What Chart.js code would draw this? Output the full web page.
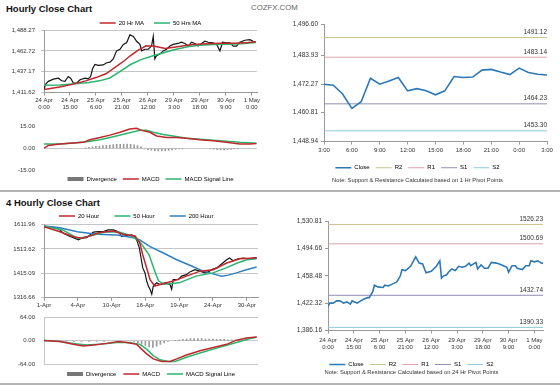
<!DOCTYPE html>
<html>
<head>
<meta charset="utf-8">
<title>Hourly Close Chart</title>
<script src="https://cdn.jsdelivr.net/npm/chart.js@4.4.1/dist/chart.umd.min.js"></script>
<style>
  html, body { margin: 0; padding: 0; background: #fff; }
  body { position: relative; width: 560px; height: 386px; overflow: hidden; font-family: "Liberation Sans", Arial, sans-serif; }
  canvas { position: absolute; }
  .heading { position: absolute; left: 6px; font-weight: bold; font-size: 9.5px; color: #111; line-height: 12px; white-space: nowrap; }
  .brand { position: absolute; left: 251px; top: 3px; font-size: 7.8px; color: #666; line-height: 10px; }
  .rule { position: absolute; left: 0; width: 560px; height: 2px; background: #b4b4b4; }
</style>
</head>
<body>
<div class="heading" style="top:3px">Hourly Close Chart</div>
<div class="brand">COZFX.COM</div>
<div class="rule" style="top:190px"></div>
<div class="heading" style="top:197px">4 Hourly Close Chart</div>
<div class="rule" style="top:383px"></div>

<canvas id="hourlyPrice" width="262" height="112" style="left:0;top:0"></canvas>
<canvas id="hourlyMacd" width="262" height="78" style="left:0;top:114px"></canvas>
<canvas id="hourlyPivot" width="272" height="170" style="left:288px;top:14px"></canvas>
<canvas id="fourHourPrice" width="262" height="112" style="left:0;top:198px"></canvas>
<canvas id="fourHourMacd" width="262" height="82" style="left:0;top:305px"></canvas>
<canvas id="dailyPivot" width="280" height="165" style="left:280px;top:211px"></canvas>

<script>
// ---- hourly close chart (top left) ----
const hourlyTickHours = [0, 15, 30, 45, 60, 75, 90, 105, 120];
const hourlyTickLabels = [['24 Apr', '0:00'], ['24 Apr', '15:00'], ['25 Apr', '6:00'], ['25 Apr', '21:00'],
  ['26 Apr', '12:00'], ['29 Apr', '3:00'], ['29 Apr', '18:00'], ['30 Apr', '9:00'], ['1 May', '0:00']];
const hourlyPriceTicks = [1411.62, 1437.17, 1462.72, 1488.27];

const hourlyHours = [0, 1, 2.5, 5.4, 8.3, 10.2, 12.1, 14, 15.4, 16.9, 18.9, 20.8, 23.7, 25.6, 26.9, 28.1, 29.4, 31.4,
  34.2, 36.2, 38.1, 40, 41.9, 43.9, 45.8, 47.7, 49.6, 51.6, 53.5, 55.4, 56.4, 58.3, 60.2, 62.1, 63.1, 64, 65, 66.9,
  68.8, 70.8, 72.7, 74.6, 77.5, 79.4, 81.4, 83.3, 85.2, 87.1, 89.1, 91, 92.9, 94.9, 97.7, 99.7, 101.6, 103.1, 105.4,
  107.4, 109.3, 111.2, 113.1, 116, 118.9, 120.8, 122.3];
const hourlyClose = [1415.5, 1422.2, 1425.4, 1428.1, 1429.3, 1426.1, 1425.4, 1431.3, 1429.3, 1423.4, 1423.4, 1427.3,
  1429.3, 1428.5, 1431.3, 1441.1, 1446.2, 1445, 1445.5, 1448.2, 1449, 1452.9, 1462.7, 1464.7, 1470.6, 1472.6, 1482.4,
  1480.4, 1474.5, 1470.6, 1462.7, 1464.7, 1464.7, 1468.6, 1480.4, 1452.9, 1456.8, 1458.8, 1462.7, 1464.7, 1468.6,
  1470.6, 1471.8, 1473.3, 1471.8, 1468.6, 1473.3, 1471.8, 1468.6, 1471.8, 1474.5, 1473.3, 1472.6, 1470.6, 1462.7,
  1473.3, 1472.6, 1472.6, 1468.6, 1468.6, 1473.3, 1475.7, 1476.5, 1474.5, 1473.3];

const hourlyMa20Hours = [0, 9, 17, 24, 30, 36, 42, 46, 50, 54, 59, 64, 70, 78, 86, 94, 102, 110, 118, 122.3];
const hourlyMa20 = [1415.5, 1418.5, 1422, 1426, 1430, 1435, 1444, 1450, 1457, 1463, 1469, 1468.5, 1465.5, 1468,
  1470.5, 1471.5, 1472, 1472, 1473, 1474];
const hourlyMa50Hours = [0, 9, 18, 26, 32, 38, 44, 50, 56, 63, 69, 75, 83, 90, 98, 106, 114, 122.3];
const hourlyMa50 = [1420.5, 1421, 1422.5, 1424, 1426, 1429.5, 1437.5, 1446, 1452, 1456.8, 1460.5, 1464, 1467.8,
  1469.5, 1470.5, 1470.8, 1471.5, 1473];

const hourlyMacdTicks = [-15, 0, 15];
const hourlyMacdHours = [0, 2.5, 9.2, 16.9, 22.7, 26.5, 32.3, 38.1, 43.9, 49.6, 53.5, 56.4, 61.2, 65, 70.8, 76.6,
  82.3, 90, 97.7, 105.4, 113.1, 118.9, 122.7];
const hourlyMacd = [0.2, 2, 3, 3.7, 4.1, 5.9, 7.4, 9.1, 11.1, 13.3, 13.9, 12.4, 11.1, 8.5, 7.4, 7.4, 6.9, 5.9, 5.2,
  4.1, 3, 3, 3.3];
const hourlySignalHours = [0, 9.2, 16.9, 24.6, 32.3, 40, 47.7, 55.4, 59.2, 63.1, 68.8, 74.6, 82.3, 90, 97.7, 105.4,
  113.1, 122.7];
const hourlySignal = [3, 3, 3.7, 4.6, 5.9, 8, 10.2, 12.4, 12.4, 11.1, 9.5, 8.5, 6.9, 6.3, 5.6, 4.8, 4.1, 3.5];
const hourlyDivHours = [24, 26, 28, 30, 32, 34, 36, 38, 40, 42, 44, 46, 48, 50, 52, 54, 56, 58, 60, 62, 64, 66, 68,
  70, 72, 74, 76, 78, 80, 96, 98, 100, 102, 104, 106, 108, 110, 112];
const hourlyDivergence = [0.4, 0.7, 1, 1.3, 1.5, 1.8, 2, 2.2, 2.5, 2.7, 2.8, 3, 3, 2.8, 2.4, 1.8, 1, -0.4, -0.9, -1.3,
  -1.6, -1.8, -1.8, -1.6, -1.4, -1.1, -0.8, -0.5, -0.3, -0.3, -0.6, -0.9, -1.1, -1.1, -0.9, -0.7, -0.5, -0.3];

// ---- 1 hr pivot chart (top right) ----
const pivot1hTicks = [1448.94, 1460.81, 1472.27, 1483.93, 1496.60];
const pivot1hHourLabels = ['3:00', '6:00', '9:00', '12:00', '15:00', '18:00', '21:00', '0:00', '3:00'];
const pivot1hClose = [1472.2, 1471.8, 1468.2, 1462.4, 1465.1, 1474.6, 1472.2, 1473.5, 1474.9, 1469.5, 1470.4,
  1469.5, 1467.9, 1469.5, 1475.3, 1474.9, 1475.1, 1477.9, 1478.2, 1477.1, 1476.1, 1478.7, 1476.9, 1476.2, 1475.9];
const pivotNames = ['R2', 'R1', 'S1', 'S2'];
const pivot1hLevels = [1491.12, 1483.14, 1464.23, 1453.30];

// ---- 4 hourly close chart (bottom left) ----
const fourHourTickPos = [0, 18, 36, 54, 72, 90, 108];
const fourHourTickLabels = ['1-Apr', '4-Apr', '10-Apr', '16-Apr', '19-Apr', '24-Apr', '30-Apr'];
const fourHourPriceTicks = [1316.66, 1415.09, 1513.62, 1611.96];

const fourHourX = [0, 3, 6.7, 8.5, 10.3, 13, 15.6, 18.3, 20, 22.7, 24.5, 26.3, 28.9, 31.6, 34.2, 36.9, 39.6, 41.4,
  44, 46.7, 48.5, 49.7, 50.8, 51.7, 52.6, 53.8, 54.7, 55.6, 56.5, 57.4, 58.2, 60, 61.8, 64.4, 67.1, 68, 68.8, 71.5,
  73.3, 75.9, 77.7, 80.4, 83.1, 85.7, 87.5, 89.3, 92, 94.6, 97.3, 98.8, 100.8, 103.4, 106.1, 108.8, 111.5, 113.3];
const fourHourClose = [1603, 1603, 1599, 1590, 1577, 1567, 1559, 1550, 1557, 1559, 1570, 1581, 1583, 1583, 1590,
  1590, 1583, 1563, 1567, 1570, 1563, 1543, 1517, 1477, 1437, 1417, 1384, 1364, 1351, 1331, 1364, 1377, 1370, 1377,
  1371, 1351, 1390, 1390, 1404, 1410, 1421, 1430, 1424, 1417, 1421, 1430, 1437, 1453, 1470, 1477, 1466, 1474, 1477,
  1474, 1477, 1479];
const ma20X = [0, 8.5, 15.6, 20, 25, 29.5, 37, 42, 48.5, 51, 52.6, 54.7, 56.5, 59, 61.8, 68.8, 75.9, 83.1, 90.2,
  97.3, 104.4, 113.3];
const ma20 = [1603, 1583, 1563, 1557, 1567, 1580, 1586, 1573, 1566, 1538, 1490, 1437, 1390, 1364, 1370, 1384, 1404,
  1424, 1430, 1457, 1474, 1477];
const ma50X = [0, 10, 18, 24, 33, 40, 46, 51, 56, 59, 61, 64, 72, 81, 90, 97, 103, 108, 113.3];
const ma50 = [1605, 1590, 1556, 1565, 1583, 1582, 1568, 1543, 1490, 1424, 1385, 1371, 1377, 1404, 1417, 1437, 1457,
  1470, 1474];
const ma200X = [0, 8.5, 17.7, 28, 38.8, 47.7, 51, 56.5, 63.6, 70.7, 77.7, 84.8, 90, 94.6, 98.1, 102.5, 107.8, 113.3];
const ma200 = [1606, 1599, 1583, 1573, 1570, 1559, 1550, 1523, 1497, 1470, 1448, 1424, 1413, 1404, 1408, 1417,
  1430, 1441];

const fourHourMacdTicks = [-64, 0, 64];
const fourMacdX = [0, 8.5, 15.6, 20.9, 26.3, 33.4, 39.6, 44, 49.4, 52, 54.7, 58.2, 62.7, 67.1, 70.7, 75.9, 83.1,
  90.2, 97.3, 102.6, 107.9, 113.3];
const fourMacd = [0.9, -1.8, -9.8, -14.2, -11.6, -7.1, -1.8, -4.4, -9.8, -23, -36, -49.8, -56.9, -56.9, -49.8, -39,
  -27.6, -18.7, -9.8, 1.8, 8, 10.7];
const fourSignalX = [0, 8.5, 15.6, 22.7, 29.8, 38.7, 45.8, 51.1, 54.7, 58.2, 61.8, 66.2, 69.8, 75.9, 83.1, 90.2,
  97.3, 104.4, 109.7, 113.3];
const fourSignal = [0.9, -1.8, -7.1, -11.6, -9.8, -4.4, -4.4, -9.8, -23, -40.9, -52.4, -56.9, -56.9, -45.3, -33.8,
  -23, -12.4, -1.8, 6.2, 9.8];
const fourDivX = [12, 16, 20, 24, 28, 32, 48, 50, 52, 54, 56, 58, 60, 62, 64, 66, 70, 72, 74, 76, 78, 80, 82, 84,
  86, 88, 90, 92, 94, 96, 98, 100, 102, 104, 106, 108];
const fourDivergence = [-1, -2, -2, -1, -1, -1, -2, -5, -9, -13, -17, -18, -15, -10, -6, -2, 1, 3, 4, 5, 6, 6, 6, 6,
  5, 5, 5, 4, 4, 4, 3, 3, 3, 2, 2, 1];

// ---- 24 hr pivot chart (bottom right) ----
const pivot24hTicks = [1386.16, 1422.32, 1458.48, 1494.66, 1530.81];
const pivot24hHours = [0, 1, 3, 5, 7, 9, 11, 13, 14, 17, 19, 21, 23, 24, 26, 27, 29, 32, 33, 35, 38, 40, 42, 43, 45,
  47, 48, 49, 51, 53, 55, 57, 60, 63, 65, 66, 67, 69, 70, 72, 74, 76, 78, 80, 82, 83, 86, 87, 89, 91, 93, 95, 98,
  101, 104, 105, 107, 109, 110, 113, 115, 117, 118, 120, 122, 124, 125];
const pivot24hClose = [1418, 1422.3, 1422.3, 1425.3, 1425.3, 1422.3, 1424, 1421, 1425.3, 1422.3, 1425.3, 1427.8,
  1429.6, 1429.6, 1437.4, 1446, 1443.8, 1443, 1446, 1445, 1448.1, 1450.3, 1458.1, 1466.6, 1465.3, 1468.8, 1471,
  1475.2, 1483.4, 1475.2, 1474, 1462.3, 1464.5, 1471, 1478.2, 1455.5, 1458.1, 1459.8, 1463.2, 1467.5, 1465.3, 1471,
  1469.7, 1471, 1475.2, 1471.8, 1476.1, 1467.5, 1472.7, 1468.4, 1468.4, 1476.1, 1475.2, 1472.7, 1469.7, 1463.2,
  1471.8, 1471.8, 1468.4, 1466.6, 1471.8, 1471.8, 1478.2, 1476.9, 1478.2, 1475.2, 1474.8];
const pivot24hLevels = [1526.23, 1500.69, 1432.74, 1390.33];

// ---- colours ----
const RED = '#c1272d';
const GREEN = '#2cb56e';
const BLUE = '#2e80c0';
const CLOSE_BLUE = '#2b78b6';
const PIVOT_COLORS = ['#c9c48f', '#dca4ab', '#958bb2', '#8ecadb'];
const AXIS = '#999';

Chart.defaults.font.family = '"Liberation Sans", Arial, sans-serif';
Chart.defaults.font.size = 6;
Chart.defaults.color = '#333';
Chart.defaults.animation = false;
Chart.defaults.responsive = false;
Chart.defaults.devicePixelRatio = 1;
Chart.defaults.elements.point.radius = 0;
Chart.defaults.elements.line.tension = 0;
Chart.defaults.plugins.tooltip.enabled = false;

function toPoints(xs, ys) {
  return xs.map((x, i) => ({ x, y: ys[i] }));
}

function fixedTicks(values) {
  return scale => { scale.ticks = values.map(v => ({ value: v })); };
}

const comma = v => v.toLocaleString('en-US', { minimumFractionDigits: 2, maximumFractionDigits: 2 });

// legend with short line swatches, entries without a label are left out
function legend(position, padding, maxHeight, extra) {
  return Object.assign({
    position,
    maxHeight,
    labels: {
      padding,
      usePointStyle: true,
      pointStyleWidth: 16,
      boxHeight: 6,
      color: '#333',
      generateLabels(chart) {
        return chart.data.datasets.map((ds, i) => ({
          text: ds.label,
          strokeStyle: ds.legendColor || ds.borderColor,
          fillStyle: ds.legendColor || ds.borderColor,
          lineWidth: ds.legendWidth || ds.borderWidth,
          pointStyle: 'line',
          hidden: false,
          datasetIndex: i
        })).filter(item => item.text);
      }
    }
  }, extra);
}

function pivotDatasets(levels, xMax) {
  return levels.map((level, i) => ({
    label: pivotNames[i],
    data: [{ x: 0, y: level }, { x: xMax, y: level }],
    borderColor: PIVOT_COLORS[i],
    borderWidth: 1,
    pivot: level
  }));
}

// writes the level value above each support / resistance line
const pivotLabels = {
  id: 'pivotLabels',
  afterDatasetsDraw(chart) {
    const { ctx, chartArea, scales } = chart;
    ctx.save();
    ctx.font = '6.5px "Liberation Sans", Arial, sans-serif';
    ctx.fillStyle = '#333';
    ctx.textAlign = 'right';
    ctx.textBaseline = 'bottom';
    chart.data.datasets.forEach(ds => {
      if (ds.pivot === undefined) return;
      ctx.fillText(ds.pivot.toFixed(2), chartArea.right, scales.y.getPixelForValue(ds.pivot) - 2);
    });
    ctx.restore();
  }
};

// price chart: close line underneath, moving averages on top
function priceChart(id, opts) {
  return new Chart(document.getElementById(id), {
    type: 'line',
    data: { datasets: opts.datasets },
    options: {
      layout: { padding: opts.padding },
      plugins: { legend: legend('top', opts.legendPadding, opts.legendHeight, opts.legendExtra) },
      scales: {
        x: {
          type: 'linear',
          min: 0,
          max: opts.xMax,
          offset: false,
          afterBuildTicks: fixedTicks(opts.xTicks),
          ticks: { callback: (v, i) => opts.xLabels[i], padding: 1, maxRotation: 0, autoSkip: false },
          grid: { drawOnChartArea: false, tickLength: 3, color: AXIS },
          border: { color: AXIS }
        },
        y: {
          min: opts.yTicks[0],
          max: opts.yTicks[opts.yTicks.length - 1],
          afterBuildTicks: fixedTicks(opts.yTicks),
          afterFit: s => { s.width = 44; },
          ticks: { callback: opts.yFormat, padding: 6 },
          grid: { color: '#c6c6c6', tickLength: 3 },
          border: { color: AXIS }
        }
      }
    }
  });
}

function macdChart(id, opts) {
  return new Chart(document.getElementById(id), {
    type: 'line',
    data: {
      datasets: [
        { type: 'bar', label: 'Divergence', data: opts.divergence, backgroundColor: '#9a9a9a', barThickness: 1,
          legendColor: '#777', legendWidth: 4, order: 2 },
        { label: 'MACD', data: opts.macd, borderColor: RED, borderWidth: 1.5, order: 0 },
        { label: 'MACD Signal Line', data: opts.signal, borderColor: GREEN, borderWidth: 1.5, order: 1 }
      ]
    },
    options: {
      layout: { padding: opts.padding },
      plugins: { legend: legend('bottom', opts.legendPadding, undefined, { fullSize: false }) },
      scales: {
        x: { type: 'linear', min: 0, max: opts.xMax, offset: false, display: false },
        y: {
          min: opts.yTicks[0],
          max: opts.yTicks[opts.yTicks.length - 1],
          afterBuildTicks: fixedTicks(opts.yTicks),
          afterFit: s => { s.width = 44; },
          ticks: { callback: v => v.toFixed(2), padding: 9 },
          grid: { drawTicks: false, color: opts.gridColor },
          border: { display: opts.frame, color: '#c6c6c6' }
        }
      }
    }
  });
}

function pivotChart(id, opts) {
  return new Chart(document.getElementById(id), {
    type: 'line',
    data: {
      datasets: [
        { label: 'Close', data: opts.close, borderColor: CLOSE_BLUE, borderWidth: 1.6 },
        ...pivotDatasets(opts.levels, opts.xMax)
      ]
    },
    options: {
      layout: { padding: opts.padding },
      plugins: {
        legend: legend('bottom', 6, opts.legendHeight),
        subtitle: { display: true, position: 'bottom', text: opts.note, font: { size: 5.8 }, color: '#333', padding: 0 }
      },
      scales: {
        x: {
          type: 'linear',
          min: 0,
          max: opts.xMax,
          afterBuildTicks: fixedTicks(opts.xTicks),
          afterFit: s => { s.height += opts.xExtra; },
          ticks: { callback: (v, i) => opts.xLabels[i], padding: opts.xPadding, maxRotation: 0, autoSkip: false },
          grid: { drawOnChartArea: false, tickLength: 3, color: AXIS },
          border: { color: AXIS }
        },
        y: {
          min: opts.yTicks[0],
          max: opts.yTicks[opts.yTicks.length - 1],
          afterBuildTicks: fixedTicks(opts.yTicks),
          afterFit: s => { s.width = opts.yWidth; },
          ticks: { callback: comma, padding: 3, font: { size: 6.5 } },
          grid: { drawOnChartArea: false, tickLength: 3, color: AXIS },
          border: { color: AXIS }
        }
      }
    },
    plugins: [pivotLabels]
  });
}

priceChart('hourlyPrice', {
  datasets: [
    { label: '20 Hr MA', data: toPoints(hourlyMa20Hours, hourlyMa20), borderColor: RED, borderWidth: 1.5 },
    { label: '50 Hrs MA', data: toPoints(hourlyMa50Hours, hourlyMa50), borderColor: GREEN, borderWidth: 1.5 },
    { label: '', data: toPoints(hourlyHours, hourlyClose), borderColor: '#151515', borderWidth: 1.2 }
  ],
  padding: { top: 10, right: 5, bottom: 0, left: 0 },
  legendPadding: 10,
  legendHeight: 20,
  legendExtra: { fullSize: false },
  xMax: 123,
  xTicks: hourlyTickHours,
  xLabels: hourlyTickLabels,
  yTicks: hourlyPriceTicks,
  yFormat: comma
});

macdChart('hourlyMacd', {
  divergence: toPoints(hourlyDivHours, hourlyDivergence),
  macd: toPoints(hourlyMacdHours, hourlyMacd),
  signal: toPoints(hourlySignalHours, hourlySignal),
  padding: { top: 10, right: 5, bottom: 0, left: 0 },
  legendPadding: 6,
  xMax: 123,
  yTicks: hourlyMacdTicks,
  gridColor: c => (c.tick.value === 0 ? '#c6c6c6' : 'rgba(0,0,0,0)'),
  frame: false
});

pivotChart('hourlyPivot', {
  close: pivot1hClose.map((v, i) => ({ x: i, y: v })),
  levels: pivot1hLevels,
  note: 'Note: Support & Resistance Calculated based on 1 Hr Pivot Points',
  padding: { top: 10, right: 13, bottom: 0, left: 0 },
  legendHeight: 18.3,
  xMax: 24,
  xTicks: [0, 3, 6, 9, 12, 15, 18, 21, 24],
  xLabels: pivot1hHourLabels,
  xPadding: 2,
  xExtra: 3,
  yTicks: pivot1hTicks,
  yWidth: 36
});

priceChart('fourHourPrice', {
  datasets: [
    { label: '20 Hour', data: toPoints(ma20X, ma20), borderColor: RED, borderWidth: 1.5 },
    { label: '50 Hour', data: toPoints(ma50X, ma50), borderColor: GREEN, borderWidth: 1.5 },
    { label: '200 Hour', data: toPoints(ma200X, ma200), borderColor: BLUE, borderWidth: 1.5 },
    { label: '', data: toPoints(fourHourX, fourHourClose), borderColor: '#151515', borderWidth: 1.2 }
  ],
  padding: { top: 0, right: 4, bottom: 0, left: 0 },
  legendPadding: 15,
  legendHeight: 26.5,
  legendExtra: { fullSize: false, align: 'start' },
  xMax: 114,
  xTicks: fourHourTickPos,
  xLabels: fourHourTickLabels,
  yTicks: fourHourPriceTicks,
  yFormat: v => v.toFixed(2)
});

macdChart('fourHourMacd', {
  divergence: toPoints(fourDivX, fourDivergence),
  macd: toPoints(fourMacdX, fourMacd),
  signal: toPoints(fourSignalX, fourSignal),
  padding: { top: 10, right: 4, bottom: 0, left: 0 },
  legendPadding: 7,
  xMax: 114,
  yTicks: fourHourMacdTicks,
  gridColor: '#c6c6c6',
  frame: true
});

pivotChart('dailyPivot', {
  close: toPoints(pivot24hHours, pivot24hClose),
  levels: pivot24hLevels,
  note: 'Note: Support & Resistance Calculated based on 24 Hr Pivot Points',
  padding: { top: 10, right: 17, bottom: 0, left: 0 },
  legendHeight: 13.5,
  xMax: 125,
  xTicks: hourlyTickHours,
  xLabels: hourlyTickLabels,
  xPadding: 3,
  xExtra: 1.6,
  yTicks: pivot24hTicks,
  yWidth: 48
});
</script>
</body>
</html>
